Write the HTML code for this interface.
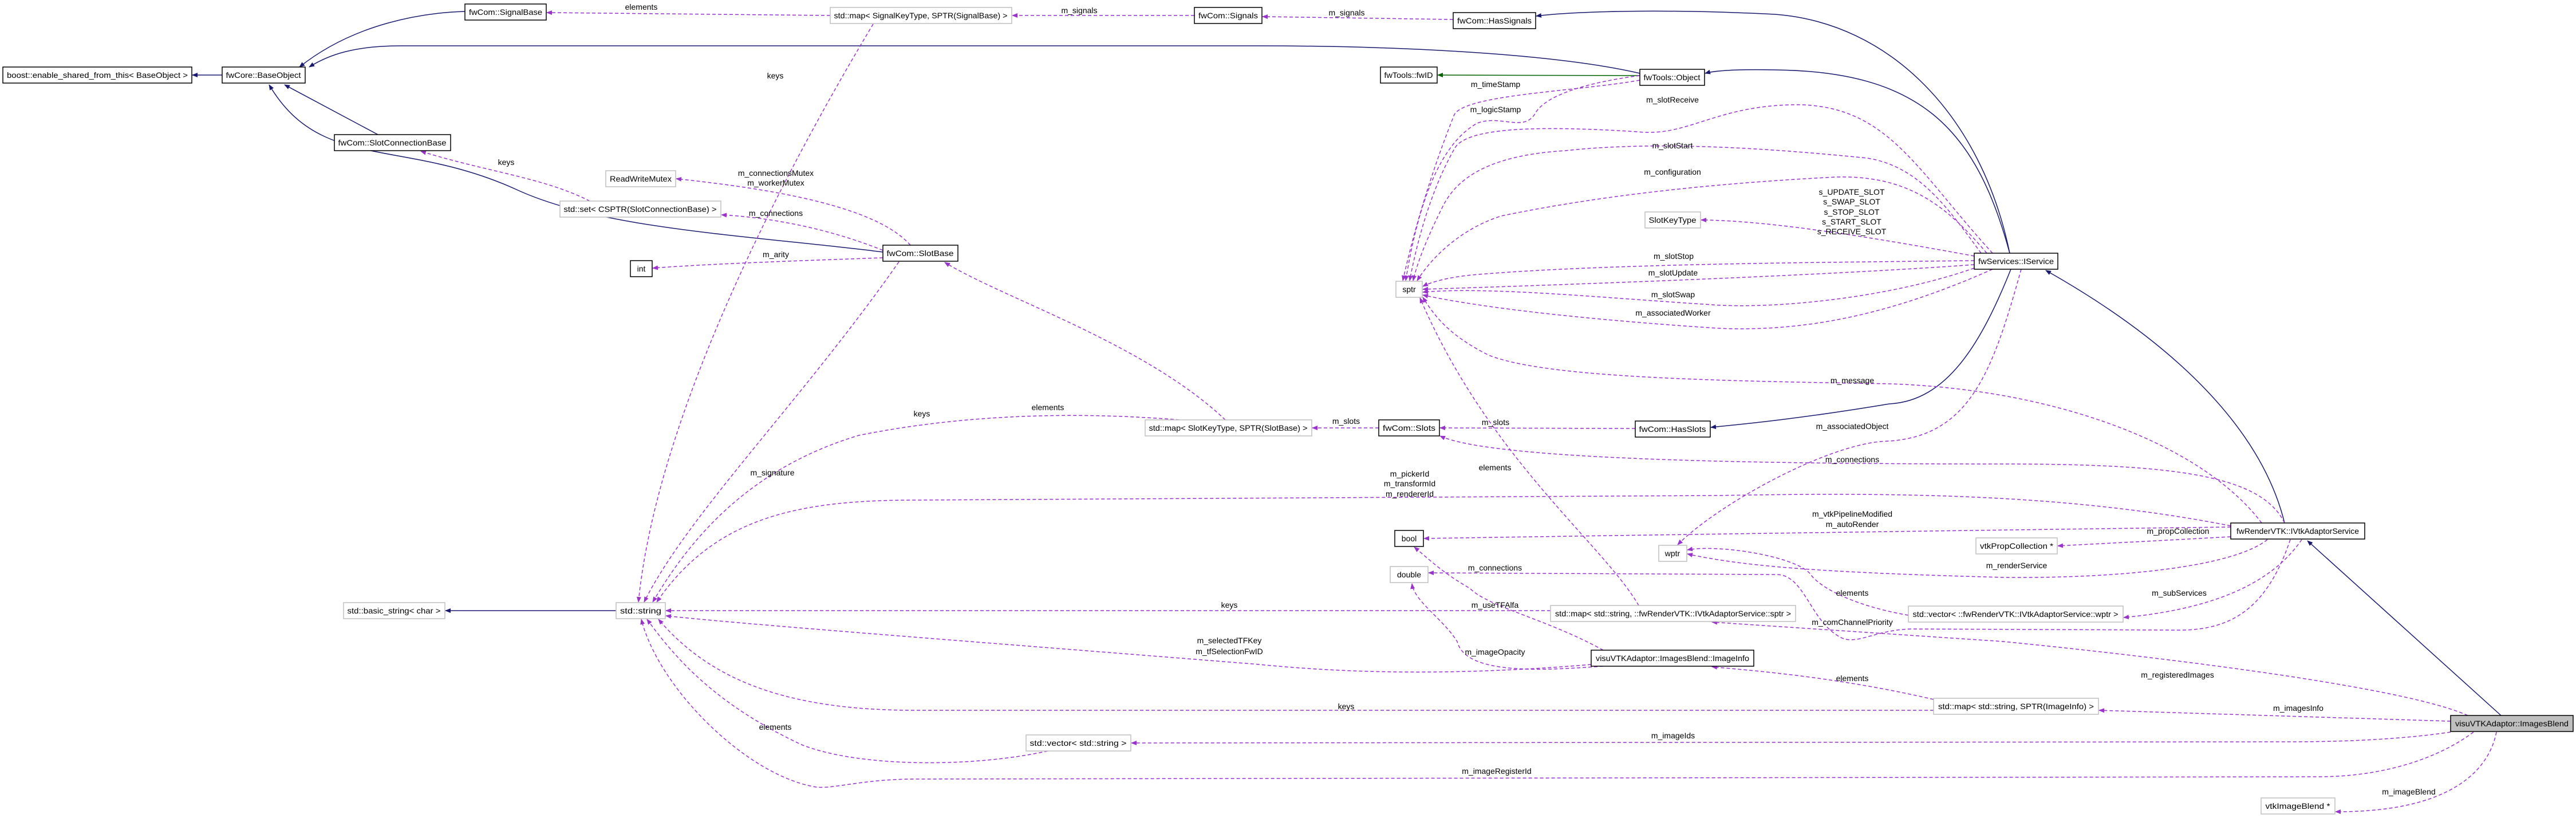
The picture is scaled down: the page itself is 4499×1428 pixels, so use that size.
<!DOCTYPE html>
<html><head><meta charset="utf-8"><style>
html,body{margin:0;padding:0;background:#fff;}
svg{display:block;}
text{font-family:"Liberation Sans","DejaVu Sans",sans-serif;font-size:14px;fill:#000;}
.n{fill:#fff;stroke:#000;stroke-width:1.5;}
.g{fill:#fff;stroke:#bfbfbf;stroke-width:1.5;}
.inh{fill:none;stroke:#191970;stroke-width:1.5;}
.use{fill:none;stroke:#9a32cd;stroke-width:1.5;stroke-dasharray:6,4;}
.tpl{fill:none;stroke:#006400;stroke-width:1.5;}
</style></head><body>
<svg width="4499" height="1428" viewBox="0 0 4499 1428" xmlns="http://www.w3.org/2000/svg">
<defs>
<marker id="ai" markerWidth="10" markerHeight="8" refX="9" refY="4" orient="auto" markerUnits="userSpaceOnUse"><path d="M0,0 L10,4 L0,8 z" fill="#191970"/></marker>
<marker id="au" markerWidth="10" markerHeight="8" refX="9" refY="4" orient="auto" markerUnits="userSpaceOnUse"><path d="M0,0 L10,4 L0,8 z" fill="#9a32cd"/></marker>
<marker id="at" markerWidth="10" markerHeight="8" refX="9" refY="4" orient="auto" markerUnits="userSpaceOnUse"><path d="M0,0 L10,4 L0,8 z" fill="#006400"/></marker>
</defs>

<!-- inheritance -->
<path class="inh" marker-end="url(#ai)" d="M812,20 C740,22 620,40 523,117"/>
<path class="inh" marker-end="url(#ai)" d="M2864,128 C2700,90 2400,80 2200,80 L700,80 C620,80 575,95 540,117"/>
<path class="inh" marker-end="url(#ai)" d="M660,235 L497,148"/>
<path class="inh" marker-end="url(#ai)" d="M1542,440 C1300,410 1050,400 900,330 C700,240 560,300 470,148"/>
<path class="inh" marker-end="url(#ai)" d="M388,131 L336,131"/>
<path class="inh" marker-end="url(#ai)" d="M3510,442 C3460,200 3300,40 3100,25 C2900,15 2750,20 2683,28"/>
<path class="inh" marker-end="url(#ai)" d="M3510,442 C3450,220 3350,125 3100,122 C3050,121 3000,122 2978,128"/>
<path class="inh" marker-end="url(#ai)" d="M3512,470 C3460,600 3400,700 3300,705 C3150,730 3050,740 2988,746"/>
<path class="inh" marker-end="url(#ai)" d="M3990,913 C3950,750 3800,600 3573,472"/>
<path class="inh" marker-end="url(#ai)" d="M4368,1249 L4030,944"/>
<path class="inh" marker-end="url(#ai)" d="M1076,1066 L778,1066"/>
<path class="tpl" marker-end="url(#at)" d="M2864,132 L2511,131"/>

<!-- usage edges -->
<path class="use" marker-end="url(#au)" d="M1450,27 L955,22"/>
<path class="use" marker-end="url(#au)" d="M2086,27 L1768,27"/>
<path class="use" marker-end="url(#au)" d="M2538,34 L2205,29"/>
<path class="use" marker-end="url(#au)" d="M1525,42 C1400,250 1150,700 1115,1051"/>
<path class="use" marker-end="url(#au)" d="M1030,351 C950,310 850,300 735,264"/>
<path class="use" marker-end="url(#au)" d="M1590,428 C1530,360 1350,330 1181,312"/>
<path class="use" marker-end="url(#au)" d="M1542,437 C1450,400 1350,380 1260,375"/>
<path class="use" marker-end="url(#au)" d="M1542,450 C1400,455 1250,460 1140,468"/>
<path class="use" marker-end="url(#au)" d="M1570,457 C1400,700 1200,900 1125,1051"/>
<path class="use" marker-end="url(#au)" d="M2140,733 C2000,600 1750,520 1650,458"/>
<path class="use" marker-end="url(#au)" d="M2060,733 C1900,720 1700,720 1500,760 C1300,820 1200,950 1140,1051"/>
<path class="use" marker-end="url(#au)" d="M2408,747 L2292,747"/>
<path class="use" marker-end="url(#au)" d="M2856,748 L2515,747"/>
<path class="use" marker-end="url(#au)" d="M2864,140 C2750,160 2560,165 2540,200 C2500,300 2470,400 2450,490"/>
<path class="use" marker-end="url(#au)" d="M2864,132 C2800,140 2700,160 2680,200 C2660,230 2620,200 2580,215 C2500,260 2470,400 2455,490"/>
<path class="use" marker-end="url(#au)" d="M3480,442 C3350,300 3300,190 3150,183 C3000,180 2950,240 2860,230 C2700,220 2560,220 2540,260 C2500,330 2475,420 2462,490"/>
<path class="use" marker-end="url(#au)" d="M3460,442 C3400,360 3350,290 3261,276 C3100,260 2900,245 2734,263 C2620,270 2550,300 2520,360 C2490,420 2475,460 2468,490"/>
<path class="use" marker-end="url(#au)" d="M3470,442 C3400,360 3330,300 3189,310 C3000,320 2800,340 2622,377 C2550,400 2500,450 2475,490"/>
<path class="use" marker-end="url(#au)" d="M3448,447 C3300,420 3100,385 2971,384"/>
<path class="use" marker-end="url(#au)" d="M3448,455 C3200,458 2800,460 2571,480 C2530,484 2500,492 2485,500"/>
<path class="use" marker-end="url(#au)" d="M3448,462 C3200,480 2800,495 2485,505"/>
<path class="use" marker-end="url(#au)" d="M3448,468 C3300,520 3100,540 2990,532 C2800,520 2600,500 2485,510"/>
<path class="use" marker-end="url(#au)" d="M3480,470 C3300,550 3150,580 3000,573 C2800,560 2600,540 2485,515"/>
<path class="use" marker-end="url(#au)" d="M3950,913 C3850,780 3600,680 3300,670 C3000,665 2700,660 2600,620 C2540,590 2510,560 2485,519"/>
<path class="use" marker-end="url(#au)" d="M3530,470 C3480,650 3440,760 3300,770 C3200,770 3000,880 2930,951"/>
<path class="use" marker-end="url(#au)" d="M3990,913 C3950,830 3800,810 3500,810 C3000,810 2600,800 2515,761"/>
<path class="use" marker-end="url(#au)" d="M3896,918 C3600,860 3300,860 3000,865 L1600,873 C1400,873 1250,900 1147,1051"/>
<path class="use" marker-end="url(#au)" d="M3896,920 C3500,925 2800,935 2487,940"/>
<path class="use" marker-end="url(#au)" d="M3896,937 C3750,945 3650,950 3594,953"/>
<path class="use" marker-end="url(#au)" d="M3960,942 C3900,990 3700,1010 3500,1008 C3200,1000 3050,990 2947,967"/>
<path class="use" marker-end="url(#au)" d="M3333,1074 C3250,1060 3180,1030 3160,1000 C3130,970 3000,950 2947,960"/>
<path class="use" marker-end="url(#au)" d="M4020,942 C3980,1000 3900,1060 3709,1078"/>
<path class="use" marker-end="url(#au)" d="M4000,942 C3960,1060 3900,1100 3806,1100 L3337,1098 C3270,1100 3240,1130 3210,1110 C3160,1080 3150,1000 3100,1003 L2495,1000"/>
<path class="use" marker-end="url(#au)" d="M2862,1057 C2800,950 2600,800 2480,520"/>
<path class="use" marker-end="url(#au)" d="M2708,1066 L1163,1066"/>
<path class="use" marker-end="url(#au)" d="M2800,1135 C2700,1080 2600,1060 2567,1027 C2520,1000 2500,980 2470,955"/>
<path class="use" marker-end="url(#au)" d="M2800,1163 C2700,1170 2560,1180 2545,1120 C2520,1080 2470,1050 2466,1019"/>
<path class="use" marker-end="url(#au)" d="M2779,1160 C2600,1175 2400,1180 2200,1160 C1700,1120 1300,1090 1163,1075"/>
<path class="use" marker-end="url(#au)" d="M3377,1221 C3200,1180 3050,1170 2990,1164"/>
<path class="use" marker-end="url(#au)" d="M4310,1249 C4200,1200 3800,1150 3500,1120 C3200,1100 3050,1090 2990,1086"/>
<path class="use" marker-end="url(#au)" d="M4280,1259 L3666,1240"/>
<path class="use" marker-end="url(#au)" d="M3377,1240 L1600,1240 C1400,1240 1250,1200 1150,1081"/>
<path class="use" marker-end="url(#au)" d="M4280,1278 C4200,1290 4100,1295 4000,1295 L1976,1297"/>
<path class="use" marker-end="url(#au)" d="M1830,1311 C1700,1340 1500,1340 1400,1300 C1250,1230 1180,1150 1130,1081"/>
<path class="use" marker-end="url(#au)" d="M4320,1278 C4250,1330 4150,1356 4050,1356 L1600,1360 C1500,1360 1450,1380 1420,1373 C1300,1350 1150,1200 1120,1081"/>
<path class="use" marker-end="url(#au)" d="M4360,1278 C4350,1330 4300,1418 4079,1417"/>

<!-- labels -->
<g>
<text x="1120" y="17" text-anchor="middle">elements</text>
<text x="1885" y="23" text-anchor="middle">m_signals</text>
<text x="2352" y="27" text-anchor="middle">m_signals</text>
<text x="1354" y="137" text-anchor="middle">keys</text>
<text x="884" y="288" text-anchor="middle">keys</text>
<text x="1355" y="307" text-anchor="middle">m_connectionsMutex</text>
<text x="1355" y="324" text-anchor="middle">m_workerMutex</text>
<text x="1355" y="377" text-anchor="middle">m_connections</text>
<text x="1355" y="449" text-anchor="middle">m_arity</text>
<text x="1349" y="830" text-anchor="middle">m_signature</text>
<text x="1830" y="716" text-anchor="middle">elements</text>
<text x="1610" y="727" text-anchor="middle">keys</text>
<text x="2351" y="740" text-anchor="middle">m_slots</text>
<text x="2612" y="742" text-anchor="middle">m_slots</text>
<text x="2612" y="152" text-anchor="middle">m_timeStamp</text>
<text x="2612" y="196" text-anchor="middle">m_logicStamp</text>
<text x="2921" y="179" text-anchor="middle">m_slotReceive</text>
<text x="2921" y="259" text-anchor="middle">m_slotStart</text>
<text x="2921" y="305" text-anchor="middle">m_configuration</text>
<text x="3234" y="340" text-anchor="middle">s_UPDATE_SLOT</text>
<text x="3234" y="357" text-anchor="middle">s_SWAP_SLOT</text>
<text x="3234" y="375" text-anchor="middle">s_STOP_SLOT</text>
<text x="3234" y="392" text-anchor="middle">s_START_SLOT</text>
<text x="3234" y="409" text-anchor="middle">s_RECEIVE_SLOT</text>
<text x="2923" y="452" text-anchor="middle">m_slotStop</text>
<text x="2922" y="481" text-anchor="middle">m_slotUpdate</text>
<text x="2922" y="519" text-anchor="middle">m_slotSwap</text>
<text x="2922" y="551" text-anchor="middle">m_associatedWorker</text>
<text x="3235" y="669" text-anchor="middle">m_message</text>
<text x="3235" y="749" text-anchor="middle">m_associatedObject</text>
<text x="3235" y="807" text-anchor="middle">m_connections</text>
<text x="2611" y="821" text-anchor="middle">elements</text>
<text x="2462" y="832" text-anchor="middle">m_pickerId</text>
<text x="2462" y="849" text-anchor="middle">m_transformId</text>
<text x="2462" y="867" text-anchor="middle">m_rendererId</text>
<text x="3235" y="902" text-anchor="middle">m_vtkPipelineModified</text>
<text x="3235" y="920" text-anchor="middle">m_autoRender</text>
<text x="3804" y="932" text-anchor="middle">m_propCollection</text>
<text x="3522" y="992" text-anchor="middle">m_renderService</text>
<text x="2611" y="996" text-anchor="middle">m_connections</text>
<text x="3235" y="1040" text-anchor="middle">elements</text>
<text x="3806" y="1040" text-anchor="middle">m_subServices</text>
<text x="2611" y="1061" text-anchor="middle">m_useTFAlfa</text>
<text x="2147" y="1061" text-anchor="middle">keys</text>
<text x="3235" y="1091" text-anchor="middle">m_comChannelPriority</text>
<text x="2147" y="1123" text-anchor="middle">m_selectedTFKey</text>
<text x="2147" y="1142" text-anchor="middle">m_tfSelectionFwID</text>
<text x="2611" y="1143" text-anchor="middle">m_imageOpacity</text>
<text x="3803" y="1183" text-anchor="middle">m_registeredImages</text>
<text x="3235" y="1189" text-anchor="middle">elements</text>
<text x="4014" y="1241" text-anchor="middle">m_imagesInfo</text>
<text x="2351" y="1238" text-anchor="middle">keys</text>
<text x="1354" y="1274" text-anchor="middle">elements</text>
<text x="2922" y="1289" text-anchor="middle">m_imageIds</text>
<text x="2614" y="1351" text-anchor="middle">m_imageRegisterId</text>
<text x="4207" y="1387" text-anchor="middle">m_imageBlend</text>
</g>

<!-- nodes -->
<g>
<rect class="n" x="5" y="117" width="330" height="28"/><text x="170" y="136" text-anchor="middle" textLength="316" lengthAdjust="spacingAndGlyphs">boost::enable_shared_from_this&lt; BaseObject &gt;</text>
<rect class="n" x="388" y="117" width="145" height="28"/><text x="460" y="136" text-anchor="middle" textLength="131" lengthAdjust="spacingAndGlyphs">fwCore::BaseObject</text>
<rect class="n" x="812" y="7" width="142" height="28"/><text x="883" y="26" text-anchor="middle" textLength="128" lengthAdjust="spacingAndGlyphs">fwCom::SignalBase</text>
<rect class="n" x="584" y="235" width="203" height="28"/><text x="685" y="254" text-anchor="middle" textLength="189" lengthAdjust="spacingAndGlyphs">fwCom::SlotConnectionBase</text>
<rect class="g" x="1058" y="298" width="122" height="28"/><text x="1119" y="317" text-anchor="middle" textLength="108" lengthAdjust="spacingAndGlyphs">ReadWriteMutex</text>
<rect class="g" x="978" y="351" width="281" height="28"/><text x="1118" y="370" text-anchor="middle" textLength="267" lengthAdjust="spacingAndGlyphs">std::set&lt; CSPTR(SlotConnectionBase) &gt;</text>
<rect class="n" x="1101" y="455" width="38" height="28"/><text x="1120" y="474" text-anchor="middle">int</text>
<rect class="g" x="1450" y="13" width="317" height="28"/><text x="1608" y="32" text-anchor="middle" textLength="303" lengthAdjust="spacingAndGlyphs">std::map&lt; SignalKeyType, SPTR(SignalBase) &gt;</text>
<rect class="n" x="2086" y="13" width="118" height="28"/><text x="2145" y="32" text-anchor="middle" textLength="104" lengthAdjust="spacingAndGlyphs">fwCom::Signals</text>
<rect class="n" x="2538" y="22" width="144" height="28"/><text x="2610" y="41" text-anchor="middle" textLength="130" lengthAdjust="spacingAndGlyphs">fwCom::HasSignals</text>
<rect class="n" x="2411" y="117" width="99" height="28"/><text x="2460" y="136" text-anchor="middle" textLength="85" lengthAdjust="spacingAndGlyphs">fwTools::fwID</text>
<rect class="n" x="2864" y="121" width="113" height="28"/><text x="2920" y="140" text-anchor="middle" textLength="99" lengthAdjust="spacingAndGlyphs">fwTools::Object</text>
<rect class="g" x="2873" y="370" width="97" height="28"/><text x="2921" y="389" text-anchor="middle" textLength="83" lengthAdjust="spacingAndGlyphs">SlotKeyType</text>
<rect class="n" x="1542" y="428" width="131" height="28"/><text x="1607" y="447" text-anchor="middle" textLength="117" lengthAdjust="spacingAndGlyphs">fwCom::SlotBase</text>
<rect class="g" x="2438" y="491" width="46" height="28"/><text x="2461" y="510" text-anchor="middle">sptr</text>
<rect class="n" x="3448" y="442" width="146" height="28"/><text x="3521" y="461" text-anchor="middle" textLength="132" lengthAdjust="spacingAndGlyphs">fwServices::IService</text>
<rect class="n" x="2856" y="735" width="131" height="28"/><text x="2921" y="754" text-anchor="middle" textLength="117" lengthAdjust="spacingAndGlyphs">fwCom::HasSlots</text>
<rect class="n" x="2408" y="733" width="106" height="28"/><text x="2461" y="752" text-anchor="middle" textLength="92" lengthAdjust="spacingAndGlyphs">fwCom::Slots</text>
<rect class="g" x="2000" y="733" width="291" height="28"/><text x="2145" y="752" text-anchor="middle" textLength="277" lengthAdjust="spacingAndGlyphs">std::map&lt; SlotKeyType, SPTR(SlotBase) &gt;</text>
<rect class="n" x="2436" y="926" width="50" height="28"/><text x="2461" y="945" text-anchor="middle">bool</text>
<rect class="g" x="2897" y="952" width="49" height="28"/><text x="2921" y="971" text-anchor="middle">wptr</text>
<rect class="g" x="3451" y="939" width="142" height="28"/><text x="3522" y="958" text-anchor="middle" textLength="128" lengthAdjust="spacingAndGlyphs">vtkPropCollection *</text>
<rect class="n" x="3896" y="913" width="234" height="28"/><text x="4013" y="932" text-anchor="middle" textLength="214" lengthAdjust="spacingAndGlyphs">fwRenderVTK::IVtkAdaptorService</text>
<rect class="g" x="2428" y="989" width="66" height="28"/><text x="2461" y="1008" text-anchor="middle">double</text>
<rect class="g" x="2708" y="1057" width="428" height="28"/><text x="2922" y="1076" text-anchor="middle" textLength="412" lengthAdjust="spacingAndGlyphs">std::map&lt; std::string, ::fwRenderVTK::IVtkAdaptorService::sptr &gt;</text>
<rect class="g" x="3333" y="1058" width="375" height="28"/><text x="3520" y="1077" text-anchor="middle" textLength="359" lengthAdjust="spacingAndGlyphs">std::vector&lt; ::fwRenderVTK::IVtkAdaptorService::wptr &gt;</text>
<rect class="n" x="2779" y="1135" width="284" height="28"/><text x="2921" y="1154" text-anchor="middle" textLength="268" lengthAdjust="spacingAndGlyphs">visuVTKAdaptor::ImagesBlend::ImageInfo</text>
<rect class="g" x="3377" y="1219" width="288" height="28"/><text x="3521" y="1238" text-anchor="middle" textLength="272" lengthAdjust="spacingAndGlyphs">std::map&lt; std::string, SPTR(ImageInfo) &gt;</text>
<rect x="4280" y="1249" width="214" height="28" fill="#bfbfbf" stroke="#000" stroke-width="1.5"/><text x="4387" y="1268" text-anchor="middle" textLength="198" lengthAdjust="spacingAndGlyphs">visuVTKAdaptor::ImagesBlend</text>
<rect class="g" x="3949" y="1393" width="129" height="28"/><text x="4013" y="1412" text-anchor="middle" textLength="113" lengthAdjust="spacingAndGlyphs">vtkImageBlend *</text>
<rect class="g" x="600" y="1052" width="177" height="28"/><text x="688" y="1071" text-anchor="middle" textLength="163" lengthAdjust="spacingAndGlyphs">std::basic_string&lt; char &gt;</text>
<rect class="g" x="1076" y="1052" width="86" height="28"/><text x="1119" y="1071" text-anchor="middle" textLength="72" lengthAdjust="spacingAndGlyphs">std::string</text>
<rect class="g" x="1792" y="1283" width="183" height="28"/><text x="1883" y="1302" text-anchor="middle" textLength="169" lengthAdjust="spacingAndGlyphs">std::vector&lt; std::string &gt;</text>
</g>
</svg>
</body></html>
